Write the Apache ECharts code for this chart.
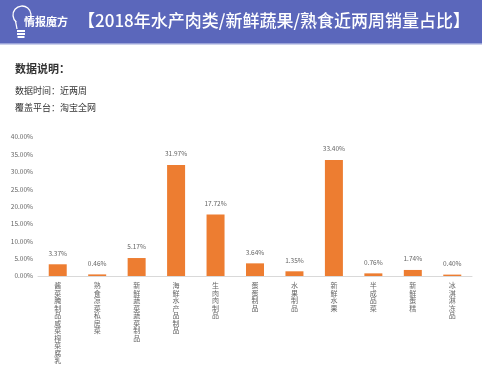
<!DOCTYPE html>
<html><head><meta charset="utf-8">
<script src="https://cdn.jsdelivr.net/npm/echarts@6/dist/echarts.min.js"></script>
<style>html,body{margin:0;padding:0;background:#fff;}#c{width:482px;height:378px;}</style>
</head><body><div id="c"></div>
<script>
var categories = ["酱菜/腌制品/咸菜/榨菜/腐乳","熟食/凉菜/私房菜","新鲜蔬菜/蔬菜制品","海鲜/水产品/制品","生肉/肉制品","蛋/蛋制品","水果制品","新鲜水果","半成品菜","新鲜蛋糕","冰淇淋/冻品"];
var values = [3.37, 0.46, 5.17, 31.97, 17.72, 3.64, 1.35, 33.40, 0.76, 1.74, 0.40];
var titleText = "【2018年水产肉类/新鲜蔬果/熟食近两周销量占比】";
var brandText = "情报魔方";
var noteTitle = "数据说明：";
var noteLines = ["数据时间：近两周", "覆盖平台：淘宝全网"];

var chart = echarts.init(document.getElementById('c'));
var FF = '"Noto Sans CJK SC","Noto Sans",sans-serif';
chart.setOption({
  animation: false,
  grid: {left: 38, right: 10, top: 137, height: 139, outerBoundsMode: 'none', containLabel: false},
  xAxis: {
    type: 'category', data: categories,
    axisLine: {lineStyle: {color: '#d9d9d9'}},
    axisTick: {show: false},
    axisLabel: {interval: 0, color: '#666', fontSize: 7, lineHeight: 7.5, fontFamily: FF, margin: 6,
      verticalAlign: 'top',
      formatter: function(v){ return v.replace(/\//g, '').split('').join('\n'); }}
  },
  yAxis: {
    type: 'value', min: 0, max: 40, interval: 5,
    splitLine: {show: false},
    axisLine: {show: false}, axisTick: {show: false},
    axisLabel: {color: '#666', fontSize: 6.5, fontFamily: FF, margin: 5,
      formatter: function(v){ return v.toFixed(2) + '%'; }}
  },
  series: [{
    type: 'bar', data: values, barWidth: 18,
    itemStyle: {color: '#ed7d31'},
    label: {show: true, position: 'top', distance: 8, color: '#666', fontSize: 6.5, fontFamily: FF,
      formatter: function(p){ return p.value.toFixed(2) + '%'; }}
  }],
  graphic: [
    {type: 'rect', shape: {x: 0, y: 0, width: 482, height: 43}, style: {fill: '#5b67bb'}},
    {type: 'rect', shape: {x: 0, y: 43, width: 482, height: 1.5}, style: {fill: '#9aa3d8'}},
    {type: 'arc', shape: {cx: 22, cy: 15, r: 9, startAngle: Math.PI*0.72, endAngle: Math.PI*2.28}, style: {stroke: '#fff', lineWidth: 1.3, fill: null}},
    {type: 'line', shape: {x1: 15.5, y1: 21, x2: 17, y2: 29}, style: {stroke: '#fff', lineWidth: 1.3}},
    {type: 'rect', shape: {x: 17, y: 30, width: 8, height: 2}, style: {fill: '#fff'}},
    {type: 'rect', shape: {x: 17, y: 33, width: 8, height: 2}, style: {fill: '#fff'}},
    {type: 'rect', shape: {x: 17.5, y: 36, width: 7, height: 2}, style: {fill: '#fff'}},
    {type: 'text', left: 24, top: 16, style: {text: brandText, fill: '#fff', font: 'bold 11px ' + FF}},
    {type: 'text', left: 78, top: 12, style: {text: titleText, fill: '#fff', font: '500 17px ' + FF}},
    {type: 'text', left: 15, top: 63, style: {text: noteTitle, fill: '#333', font: 'bold 11px ' + FF}},
    {type: 'text', left: 15, top: 86, style: {text: noteLines[0], fill: '#333', font: '9px ' + FF}},
    {type: 'text', left: 15, top: 103, style: {text: noteLines[1], fill: '#333', font: '9px ' + FF}}
  ]
});
</script></body></html>
